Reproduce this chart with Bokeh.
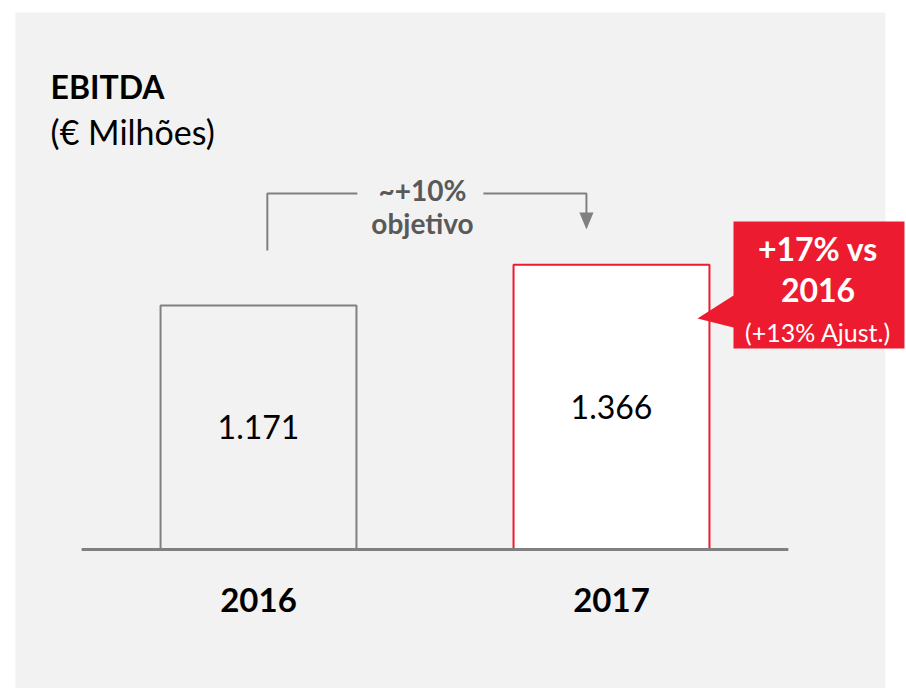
from bokeh.plotting import figure
from bokeh.models import Range1d
from bokeh.core.properties import value
from bokeh.embed import file_html
from bokeh.resources import INLINE

# ---- data ----
years = ["2016", "2017"]
ebitda = [1171, 1366]
value_labels = ["1.171", "1.366"]
bar_fills = ["#F2F2F2", "#FFFFFF"]
bar_lines = ["#808080", "#ED1B2F"]

FONT = value("Lato")
GRAY = "#808080"
TEXT_GRAY = "#595959"
RED = "#ED1B2F"

xs = list(range(len(years)))

p = figure(width=906, height=688, output_backend="svg", toolbar_location=None,
           x_range=Range1d(-0.7309, 1.8357), y_range=Range1d(-667.1, 2634.7))
p.min_border = 0
p.min_border_left = 0
p.min_border_right = 0
p.min_border_top = 0
p.min_border_bottom = 0
p.axis.visible = False
p.grid.visible = False
p.outline_line_color = None
p.background_fill_color = "#FFFFFF"
p.border_fill_color = "#FFFFFF"

# gray panel
p.quad(left=[-0.6884], right=[1.776], top=[2577], bottom=[-700],
       fill_color="#F2F2F2", line_color=None)

# bars
p.vbar(x=xs, top=ebitda, bottom=0, width=0.555, fill_color=bar_fills,
       line_color=bar_lines, line_width=2)

# baseline
p.line(x=[-0.501, 1.501], y=[0, 0], line_color=GRAY, line_width=3)

# value labels
p.text(x=xs, y=[v / 2 for v in ebitda], text=value_labels, text_font=FONT,
       text_font_size="32px", text_align="center", text_baseline="middle",
       text_color="#000000")

# year labels
p.text(x=xs, y=[-240] * len(xs), text=years, text_font=FONT,
       text_font_size="33px", text_font_style="bold", text_align="center",
       text_baseline="middle", text_color="#000000")

# title
p.text(x=[-0.589], y=[2222], text=["EBITDA"], text_font=FONT,
       text_font_size="32px", text_font_style="bold", text_align="left",
       text_baseline="middle", text_color="#000000")
p.text(x=[-0.589], y=[2006], text=["(€ Milhões)"], text_font=FONT,
       text_font_size="34px", text_align="left", text_baseline="middle",
       text_color="#000000")

# bracket arrow
p.line(x=[0.025, 0.025, 0.280], y=[1435, 1708, 1708], line_color=GRAY, line_width=2)
p.line(x=[0.637, 0.929, 0.929], y=[1708, 1708, 1612], line_color=GRAY, line_width=2)
p.patch(x=[0.909, 0.949, 0.929], y=[1617, 1617, 1536], fill_color=GRAY, line_color=None)
p.text(x=[0.4646], y=[1723], text=["~+10%"], text_font=FONT, text_font_size="28px",
       text_font_style="bold", text_align="center", text_baseline="middle",
       text_color=TEXT_GRAY)
p.text(x=[0.4646], y=[1569], text=["objetivo"], text_font=FONT, text_font_size="28px",
       text_font_style="bold", text_align="center", text_baseline="middle",
       text_color=TEXT_GRAY)

# callout
p.patch(x=[1.3456, 1.83, 1.83, 1.3456, 1.3456, 1.2436, 1.3456],
        y=[1574, 1574, 965, 965, 1065, 1109, 1219],
        fill_color=RED, line_color=None)
p.text(x=[1.585], y=[1445], text=["+17% vs"], text_font=FONT, text_font_size="32px",
       text_font_style="bold", text_align="center", text_baseline="middle",
       text_color="#FFFFFF")
p.text(x=[1.585], y=[1243], text=["2016"], text_font=FONT, text_font_size="32px",
       text_font_style="bold", text_align="center", text_baseline="middle",
       text_color="#FFFFFF")
p.text(x=[1.585], y=[1046], text=["(+13% Ajust.)"], text_font=FONT, text_font_size="25px",
       text_align="center", text_baseline="middle", text_color="#FFFFFF")

open("out.html", "w").write(file_html(p, INLINE))
